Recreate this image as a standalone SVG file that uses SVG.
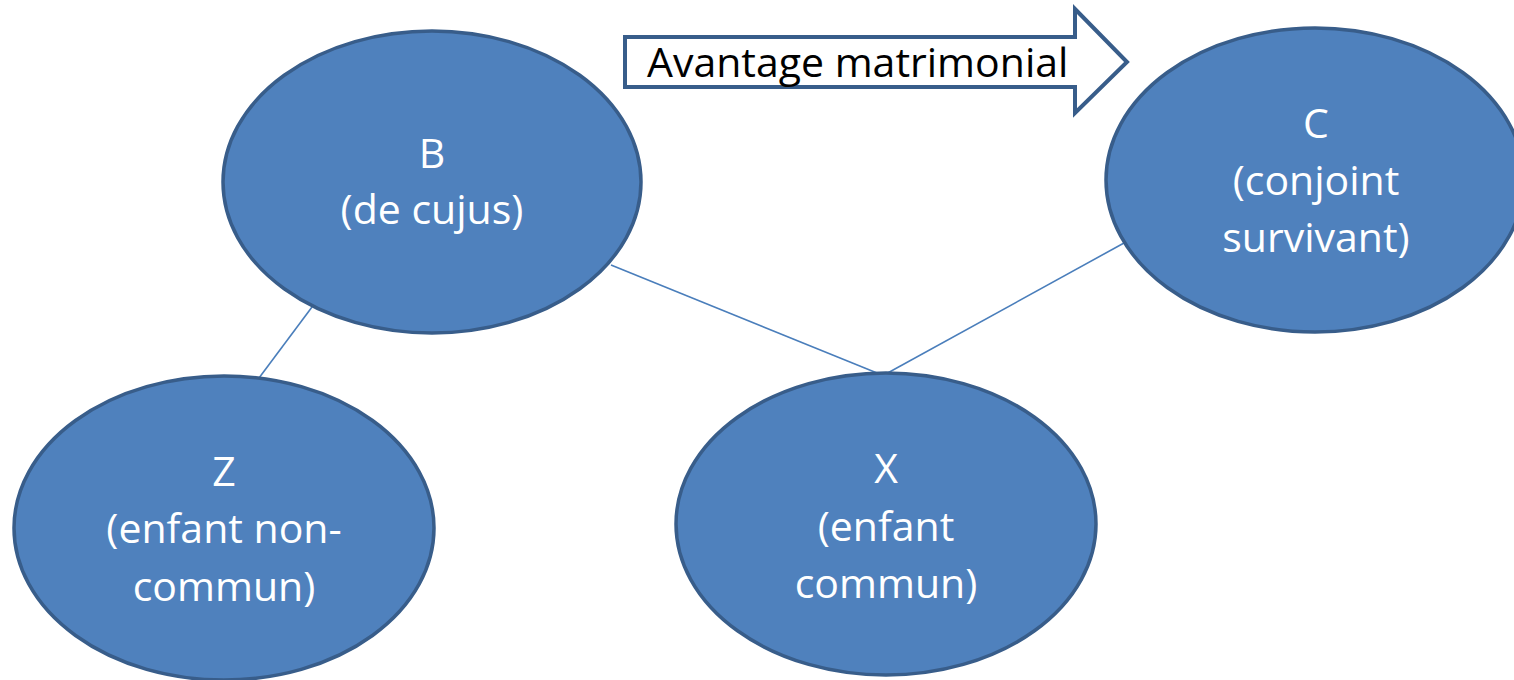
<svg xmlns="http://www.w3.org/2000/svg" width="1514" height="680" viewBox="0 0 1514 680">
<style>
.node{fill:#4F81BD;stroke:#385D8A;stroke-width:3.5}
.lbl{font-family:"Open Sans","Noto Sans",sans-serif;font-size:41px;fill:#FFFFFF;text-anchor:middle}
.conn{stroke:#4A7EBB;stroke-width:1.6;fill:none}
.arrow{fill:#FFFFFF;stroke:#385D8A;stroke-width:4;stroke-linejoin:miter}
.atext{font-family:"Open Sans","Noto Sans",sans-serif;font-size:41px;fill:#000000}
</style>
<rect width="1514" height="680" fill="#FFFFFF"/>
<g id="connectors">
<line class="conn" x1="312" y1="307" x2="259" y2="378"/>
<line class="conn" x1="611" y1="265" x2="882" y2="375"/>
<line class="conn" x1="1124" y1="243" x2="884" y2="375"/>
</g>
<g id="arrow-avantage">
<path class="arrow" d="M625,37 L1075,37 L1075,9 L1127,62 L1075,113 L1075,87 L625,87 Z"/>
<text class="atext" x="647" y="77">Avantage matrimonial</text>
</g>
<g id="node-B">
<ellipse class="node" cx="432" cy="182" rx="209" ry="151"/>
<text class="lbl" x="432" y="168">B</text>
<text class="lbl" x="432" y="224">(de cujus)</text>
</g>
<g id="node-C">
<ellipse class="node" cx="1315" cy="180" rx="209" ry="152"/>
<text class="lbl" x="1316" y="138">C</text>
<text class="lbl" x="1316" y="195">(conjoint</text>
<text class="lbl" x="1316" y="252">survivant)</text>
</g>
<g id="node-Z">
<ellipse class="node" cx="224" cy="528" rx="210" ry="152"/>
<text class="lbl" x="224" y="486">Z</text>
<text class="lbl" x="224" y="543">(enfant non-</text>
<text class="lbl" x="224" y="601">commun)</text>
</g>
<g id="node-X">
<ellipse class="node" cx="886" cy="524" rx="210" ry="151"/>
<text class="lbl" x="886" y="483">X</text>
<text class="lbl" x="886" y="541">(enfant</text>
<text class="lbl" x="886" y="598">commun)</text>
</g>
</svg>
